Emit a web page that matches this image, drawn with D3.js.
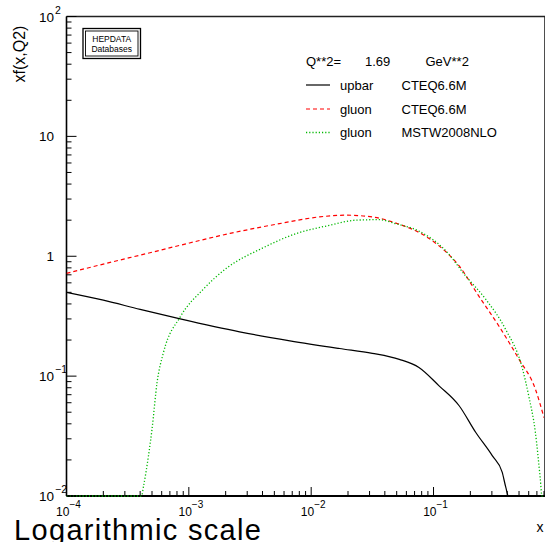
<!DOCTYPE html>
<html>
<head>
<meta charset="utf-8">
<script src="https://cdn.jsdelivr.net/npm/d3@7"></script>
<style>
  body { margin: 0; background: #fff; }
  svg { display: block; }
  text { font-family: "Liberation Sans", Arial, sans-serif; fill: #000; }
</style>
</head>
<body>
<div id="chart"></div>
<script>
// values
const xUpbar = [1e-4, 2e-4, 4e-4, 8.5e-4, 2.6e-3, 6.7e-3, 1.7e-2, 3.16e-2, 5.25e-2, 7.6e-2, 0.111, 0.162, 0.221, 0.302, 0.364, 0.39, 0.41, 0.45, 0.8];
const yUpbar = [0.50, 0.43, 0.36, 0.30, 0.234, 0.197, 0.17, 0.155, 0.138, 0.118, 0.083, 0.0566, 0.034, 0.0217, 0.0158, 0.0118, 0.0085, 0.003, 0.0001];

const xGluonCteq = [1e-4, 2e-4, 5e-4, 8.5e-4, 2.17e-3, 5.5e-3, 1.17e-2, 1.93e-2, 3.16e-2, 5e-2, 7.6e-2, 0.111, 0.162, 0.234, 0.342, 0.498, 0.68, 0.8];
const yGluonCteq = [0.72, 0.86, 1.08, 1.235, 1.55, 1.87, 2.13, 2.2, 2.13, 1.88, 1.58, 1.22, 0.83, 0.467, 0.262, 0.139, 0.078, 0.045];

const xGluonMstw = [1e-4, 3e-4, 4.1e-4, 4.27e-4, 4.68e-4, 5e-4, 5.5e-4, 6.2e-4, 8.5e-4, 1.31e-3, 2.05e-3, 4e-3, 7.6e-3, 1.41e-2, 2.33e-2, 3.6e-2, 4.9e-2, 7.6e-2, 0.126, 0.183, 0.267, 0.388, 0.53, 0.6, 0.68, 0.746, 0.77, 0.8];
const yGluonMstw = [0.001, 0.001, 0.005, 0.0122, 0.0217, 0.036, 0.0886, 0.157, 0.312, 0.53, 0.80, 1.17, 1.55, 1.81, 2.0, 2.02, 1.87, 1.62, 1.11, 0.686, 0.438, 0.246, 0.118, 0.0685, 0.034, 0.0139, 0.01, 0.003];

const xMajor = [1e-4, 1e-3, 1e-2, 1e-1];
const xMajorExp = ["\u22124", "\u22123", "\u22122", "\u22121"];
const yMajor = [0.01, 0.1, 1, 10, 100];
const yMajorLabels = [["10", "\u22122"], ["10", "\u22121"], ["1", ""], ["10", ""], ["10", "2"]];

const legendNames = ["upbar", "gluon", "gluon"];
const legendSets = ["CTEQ6.6M", "CTEQ6.6M", "MSTW2008NLO"];

const width = 545, height = 542;
const plotL = 66.5, plotR = 544, plotT = 16.5, plotB = 496;

const svg = d3.select("#chart").append("svg")
    .attr("width", width)
    .attr("height", height);

const x = d3.scaleLog().domain([1e-4, 0.8]).range([plotL, plotR]);
const y = d3.scaleLog().domain([0.01, 100]).range([plotB, plotT]).clamp(true);

svg.append("clipPath").attr("id", "plotclip")
  .append("rect").attr("x", plotL).attr("y", plotT - 1).attr("width", plotR - plotL).attr("height", plotB - plotT + 2);

// frame
svg.append("line").attr("x1", plotL).attr("x2", 545).attr("y1", plotT).attr("y2", plotT)
  .attr("stroke", "#222").attr("stroke-width", 1.6);
svg.append("line").attr("x1", 545).attr("x2", 545).attr("y1", plotT).attr("y2", plotB)
  .attr("stroke", "#222").attr("stroke-width", 1.6);
svg.append("line").attr("x1", plotL).attr("x2", plotL).attr("y1", plotT).attr("y2", plotB)
  .attr("stroke", "#000").attr("stroke-width", 1.6);
svg.append("line").attr("x1", plotL).attr("x2", 545).attr("y1", plotB).attr("y2", plotB)
  .attr("stroke", "#000").attr("stroke-width", 1.8);

// curves
const line = d3.line().x(d => x(d[0])).y(d => y(d[1])).curve(d3.curveMonotoneX);
const series = [
  {xs: xUpbar, ys: yUpbar, color: "#000", dash: null, w: 1.2},
  {xs: xGluonCteq, ys: yGluonCteq, color: "#ff0000", dash: "4,3", w: 1.2},
  {xs: xGluonMstw, ys: yGluonMstw, color: "#00b800", dash: "1.2,2", w: 1.3}
];
const g = svg.append("g").attr("clip-path", "url(#plotclip)");
series.forEach(s => {
  g.append("path")
    .datum(s.xs.map((v, i) => [v, s.ys[i]]))
    .attr("d", line)
    .attr("fill", "none")
    .attr("stroke", s.color)
    .attr("stroke-width", s.w)
    .attr("stroke-dasharray", s.dash);
});

// x ticks (inward)
const xMinor = [];
xMajor.forEach(d => { for (let k = 2; k <= 9; k++) if (d * k <= 0.8001) xMinor.push(d * k); });
svg.selectAll(".xminor").data(xMinor).enter().append("line")
  .attr("x1", d => x(d)).attr("x2", d => x(d))
  .attr("y1", plotB).attr("y2", plotB - 5)
  .attr("stroke", "#000").attr("stroke-width", 1);
svg.selectAll(".xmajor").data(xMajor).enter().append("line")
  .attr("x1", d => x(d)).attr("x2", d => x(d))
  .attr("y1", plotB).attr("y2", plotB - 9)
  .attr("stroke", "#000").attr("stroke-width", 1);

xMajor.forEach((d, i) => {
  const t = svg.append("text")
    .attr("x", x(d) + 2).attr("y", 516)
    .attr("text-anchor", "middle")
    .style("font-size", "12px");
  t.append("tspan").text("10");
  t.append("tspan").attr("dy", -8).style("font-size", "10px").text(xMajorExp[i]);
});

// y ticks (inward)
const yMinor = [];
yMajor.slice(0, 4).forEach(d => { for (let k = 2; k <= 9; k++) yMinor.push(d * k); });
svg.selectAll(".yminor").data(yMinor).enter().append("line")
  .attr("x1", plotL).attr("x2", plotL + 5)
  .attr("y1", d => y(d)).attr("y2", d => y(d))
  .attr("stroke", "#000").attr("stroke-width", 1);
svg.selectAll(".ymajor").data(yMajor).enter().append("line")
  .attr("x1", plotL).attr("x2", plotL + 10)
  .attr("y1", d => y(d)).attr("y2", d => y(d))
  .attr("stroke", "#000").attr("stroke-width", 1);

yMajor.forEach((d, i) => {
  const lab = yMajorLabels[i];
  svg.append("text")
    .attr("x", 54).attr("y", y(d) + 5)
    .attr("text-anchor", "end")
    .style("font-size", "13.5px")
    .text(lab[0]);
  if (lab[1]) {
    svg.append("text")
      .attr("x", 55).attr("y", y(d) - 3)
      .style("font-size", "10.5px")
      .text(lab[1]);
  }
});

// axis titles
svg.append("text")
  .attr("transform", "translate(25,54) rotate(-90)")
  .attr("text-anchor", "middle")
  .style("font-size", "16px")
  .text("xf(x,Q2)");
svg.append("text")
  .attr("x", 540).attr("y", 532)
  .attr("text-anchor", "middle")
  .style("font-size", "14px")
  .text("x");
svg.append("text")
  .attr("x", 14).attr("y", 540)
  .attr("textLength", 247).attr("lengthAdjust", "spacing")
  .style("font-size", "29px")
  .text("Logarithmic scale");

// HEPDATA box
svg.append("rect").attr("x", 83).attr("y", 28.5).attr("width", 57.5).attr("height", 30)
  .attr("fill", "#fff").attr("stroke", "#000").attr("stroke-width", 1.3);
svg.append("rect").attr("x", 85.5).attr("y", 31).attr("width", 52.5).attr("height", 25)
  .attr("fill", "none").attr("stroke", "#000").attr("stroke-width", 0.9);
svg.append("text").attr("x", 111.7).attr("y", 41.8).attr("text-anchor", "middle")
  .style("font-size", "8.5px").text("HEPDATA");
svg.append("text").attr("x", 111.7).attr("y", 51.8).attr("text-anchor", "middle")
  .style("font-size", "8.5px").text("Databases");

// legend
svg.append("text").attr("x", 306).attr("y", 66).style("font-size", "13px").text("Q**2=");
svg.append("text").attr("x", 365).attr("y", 66).style("font-size", "13px").text("1.69");
svg.append("text").attr("x", 425.5).attr("y", 66).style("font-size", "13px").text("GeV**2");

const legendY = [85, 109, 132.5];
series.forEach((s, i) => {
  svg.append("line")
    .attr("x1", 306).attr("x2", 330)
    .attr("y1", legendY[i]).attr("y2", legendY[i])
    .attr("stroke", s.color).attr("stroke-width", s.w)
    .attr("stroke-dasharray", s.dash);
  svg.append("text").attr("x", 340).attr("y", legendY[i] + 4.5)
    .style("font-size", "13px").text(legendNames[i]);
  svg.append("text").attr("x", 401.5).attr("y", legendY[i] + 4.5)
    .style("font-size", "13px").text(legendSets[i]);
});
</script>
</body>
</html>
